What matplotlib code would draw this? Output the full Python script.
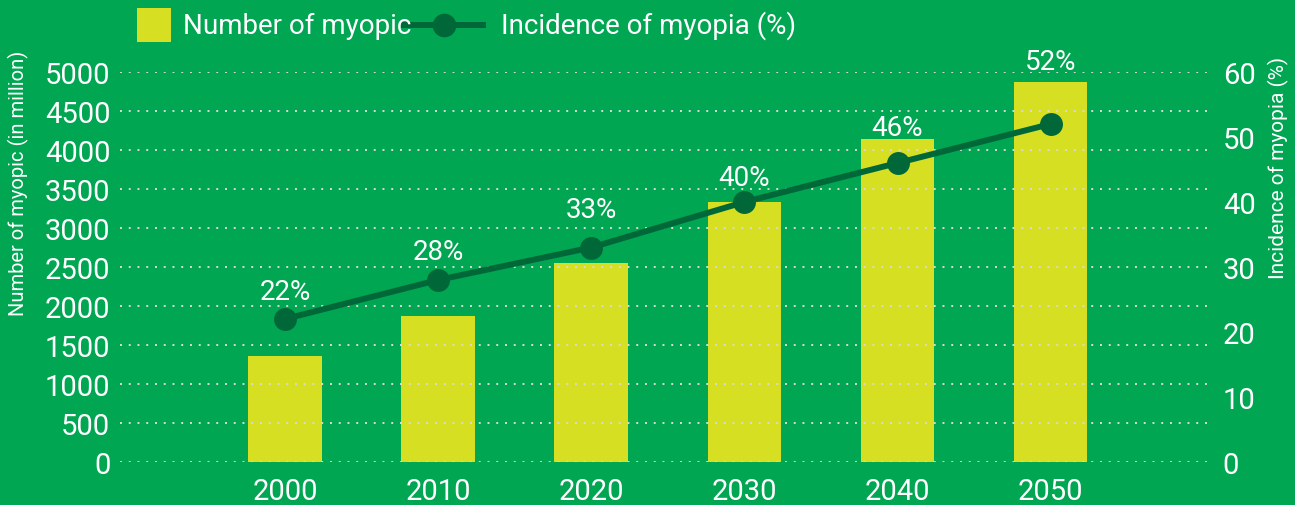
import matplotlib
matplotlib.use("Agg")
import matplotlib.pyplot as plt
from matplotlib.patches import Rectangle
from matplotlib.lines import Line2D
import numpy as np

# Du lieu doc tu hinh
years = ["2000", "2010", "2020", "2030", "2040", "2050"]
myopic_million = [1360, 1875, 2555, 3335, 4140, 4870]
incidence_pct = [22, 28, 33, 40, 46, 52]
left_ticks = [0, 500, 1000, 1500, 2000, 2500, 3000, 3500, 4000, 4500, 5000]
right_ticks = [0, 10, 20, 30, 40, 50, 60]

BG = "#00A651"
BAR = "#D7DF23"
LINE = "#006838"
WHITE = "white"

plt.rcParams['font.family'] = ['Roboto', 'DejaVu Sans']

W, H = 1295, 506
fig = plt.figure(figsize=(W / 100, H / 100), dpi=100, facecolor=BG)
ax = fig.add_axes([120 / W, 43 / H, 1093 / W, 390 / H])
ax.set_facecolor(BG)
ax2 = ax.twinx()

x = np.arange(len(years))
ax.bar(x, myopic_million, width=0.48, color=BAR, zorder=1)

# luoi cham, ve tren cot
for v in left_ticks:
    ax.axhline(v, color="#d9d9d9", linestyle=(0, (1, 3.5)), linewidth=1.4, zorder=2)

ax.set_ylim(0, 5000)
ax.set_xlim(-1.077, 6.06)
ax.set_yticks(left_ticks)
ax.set_xticks(x)
ax.set_xticklabels(years)

ax2.plot(x, incidence_pct, color=LINE, linewidth=4.3, marker="o", markersize=15.5, zorder=3)
ax2.set_ylim(0, 60)
ax2.set_yticks(right_ticks)

# nhan phan tram tren diem
label_offsets = [28, 28, 38, 24, 36, 63]
for xi, p, off in zip(x, incidence_pct, label_offsets):
    ax2.annotate(f"{p}%", (xi, p), xytext=(0, off), textcoords="offset pixels",
                 ha="center", va="center", color=WHITE, fontsize=20)

for a in (ax, ax2):
    for s in a.spines.values():
        s.set_visible(False)
    a.tick_params(length=0, colors=WHITE, labelsize=21)
ax.tick_params(axis="y", pad=7)
ax.tick_params(axis="x", pad=11)
ax2.tick_params(axis="y", pad=7)

# nhan truc doc
fig.text(18 / W, 1 - 183 / H, "Number of myopic (in million)", color=WHITE, fontsize=14.5,
         rotation=90, ha="center", va="center")
fig.text(1278 / W, 1 - 168 / H, "Incidence of myopia (%)", color=WHITE, fontsize=15,
         rotation=90, ha="center", va="center")

# chu giai ve tay o tren cung
ly = 1 - 26 / H
fig.patches.append(Rectangle((137 / W, 1 - 43 / H), 34 / W, 34 / H,
                             transform=fig.transFigure, facecolor=BAR, edgecolor="none"))
fig.text(183 / W, ly, "Number of myopic", color=WHITE, fontsize=20, va="center", ha="left")
fig.lines.append(Line2D([404 / W, 483 / W], [ly, ly], transform=fig.transFigure,
                        color=LINE, linewidth=4.3))
fig.lines.append(Line2D([444 / W], [ly], transform=fig.transFigure, color=LINE,
                        marker="o", markersize=16))
fig.text(501 / W, ly, "Incidence of myopia (%)", color=WHITE, fontsize=20, va="center", ha="left")

fig.savefig("out.png", dpi=100, facecolor=BG)
